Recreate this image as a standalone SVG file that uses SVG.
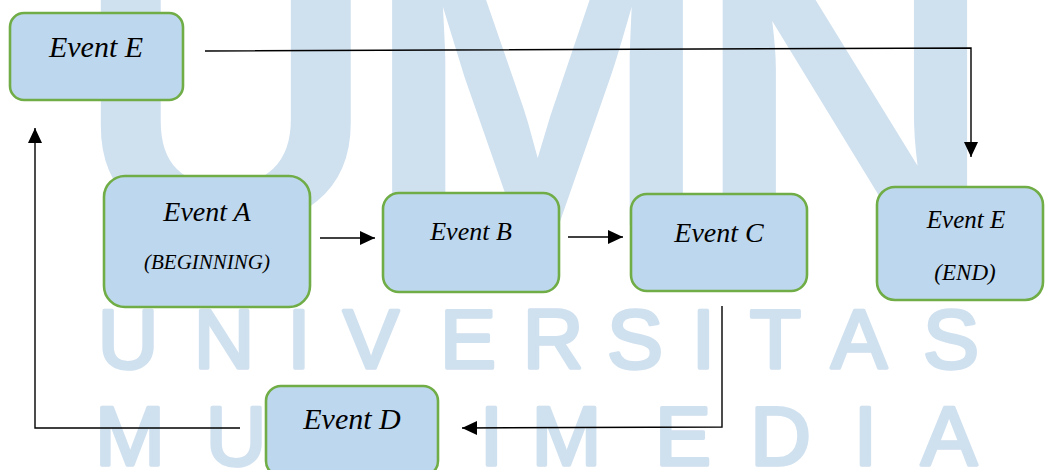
<svg xmlns="http://www.w3.org/2000/svg" width="1048" height="470" viewBox="0 0 1048 470">
  <style>
    .wm { fill: #cfe0ef; font-family: "Liberation Sans", Arial, sans-serif; }
    .wm-big { font-weight: bold; font-size: 385px; }
    .wm-row { font-size: 84px; stroke: #cfe0ef; stroke-width: 3.5; stroke-linejoin: round; }
    .box { fill: #bdd7ee; stroke: #70ad47; stroke-width: 2.6; }
    .lbl { font-family: "Liberation Serif", "Times New Roman", serif; font-style: italic; fill: #000; text-anchor: middle; }
    .conn { fill: none; stroke: #000; stroke-width: 1.4; }
  </style>
  <defs>
    <marker id="arrow" markerUnits="userSpaceOnUse" markerWidth="16" markerHeight="15" refX="15" refY="7" orient="auto">
      <path d="M0,0 L15,7 L0,14 z" fill="#000"/>
    </marker>
  </defs>

  <rect width="1048" height="470" fill="#fff"/>

  <!-- background lettering -->
  <g id="watermark" class="wm" text-anchor="middle">
    <text class="wm-big" transform="translate(226,225) scale(1.08,1)">U</text>
    <text class="wm-big" transform="translate(537.5,225) scale(1.08,1)">M</text>
    <text class="wm-big" transform="translate(845,225) scale(1.08,1)">N</text>
    <text class="wm-row" x="128 224 299 371 468 553 635 703.5 775.5 859 951" y="368">UNIVERSITAS</text>
    <text class="wm-row" x="130 236 318 400 491.5 566.5 683 780.5 865.5 949" y="465">MULTIMEDIA</text>
  </g>

  <!-- connectors -->
  <g id="connectors" class="conn">
    <polyline points="205,51 971,48 971,157" marker-end="url(#arrow)"/>
    <polyline points="320,238 375,238" marker-end="url(#arrow)"/>
    <polyline points="568,237 623,237" marker-end="url(#arrow)"/>
    <polyline points="722,306 722,427 462,428" marker-end="url(#arrow)"/>
    <polyline points="240,428 35,428 35,128" marker-end="url(#arrow)"/>
  </g>

  <!-- nodes -->
  <g id="node-event-e-top">
    <rect class="box" x="10" y="13" width="173" height="87" rx="14"/>
    <text class="lbl" x="96" y="57" font-size="30">Event E</text>
  </g>

  <g id="node-event-a">
    <rect class="box" x="104" y="176" width="206" height="131" rx="21"/>
    <text class="lbl" x="207" y="221" font-size="28">Event A</text>
    <text class="lbl" x="207" y="269" font-size="21">(BEGINNING)</text>
  </g>

  <g id="node-event-b">
    <rect class="box" x="383" y="193" width="176" height="99" rx="16"/>
    <text class="lbl" x="471" y="240" font-size="26">Event B</text>
  </g>

  <g id="node-event-c">
    <rect class="box" x="631" y="194" width="176" height="97" rx="16"/>
    <text class="lbl" x="719" y="242" font-size="28">Event C</text>
  </g>

  <g id="node-event-e-end">
    <rect class="box" x="877" y="187" width="166" height="113" rx="18"/>
    <text class="lbl" x="966" y="228" font-size="25">Event E</text>
    <text class="lbl" x="965" y="280" font-size="23">(END)</text>
  </g>

  <g id="node-event-d">
    <rect class="box" x="266" y="386" width="172" height="90" rx="15"/>
    <text class="lbl" x="352" y="429" font-size="30">Event D</text>
  </g>
</svg>
